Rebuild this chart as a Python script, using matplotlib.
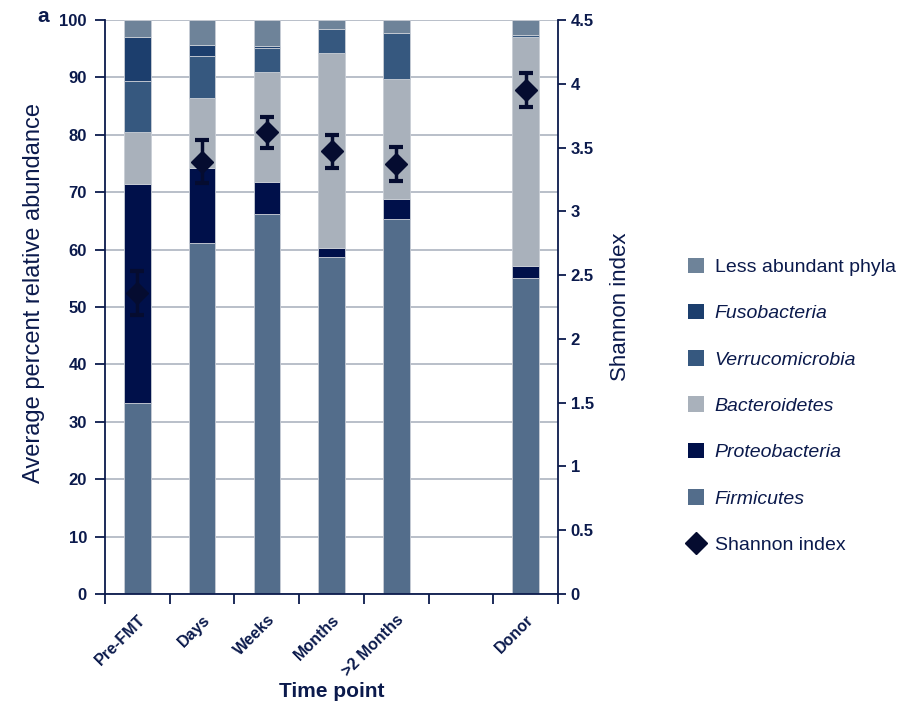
import matplotlib
matplotlib.use("Agg")
import matplotlib.pyplot as plt
import numpy as np
from matplotlib.lines import Line2D
from matplotlib.patches import Patch

plt.rcParams['font.family'] = ['Liberation Sans', 'DejaVu Sans']

# Time points (one empty slot separates follow-up from donor)
categories = ["Pre-FMT", "Days", "Weeks", "Months", ">2 Months", "", "Donor"]

# Average percent relative abundance per phylum (bottom to top)
firmicutes      = [33.3, 61.1, 66.2, 58.7, 65.3, 0, 55.1]
proteobacteria  = [38.1, 13.2,  5.5,  1.6,  3.5, 0,  2.1]
bacteroidetes   = [ 9.1, 12.1, 19.2, 33.9, 21.0, 0, 39.9]
verrucomicrobia = [ 8.9,  7.4,  4.3,  4.2,  7.9, 0,  0.2]
fusobacteria    = [ 7.7,  1.8,  0.3,  0.0,  0.0, 0,  0.1]
less_abundant   = [ 2.9,  4.4,  4.5,  1.6,  2.3, 0,  2.6]

# Shannon diversity (mean and error) per time point; None where no sample
shannon     = [2.36, 3.39, 3.62, 3.47, 3.37, None, 3.95]
shannon_err = [0.17, 0.17, 0.12, 0.13, 0.135, None, 0.135]

navy = "#0b1a4c"
layers = [
    ("Firmicutes", firmicutes, "#536d8b"),
    ("Proteobacteria", proteobacteria, "#00104a"),
    ("Bacteroidetes", bacteroidetes, "#a9b1bb"),
    ("Verrucomicrobia", verrucomicrobia, "#36587f"),
    ("Fusobacteria", fusobacteria, "#1c3e6d"),
    ("Less abundant phyla", less_abundant, "#6e8399"),
]

fig = plt.figure(figsize=(9.03, 7.04), dpi=100)
ax = fig.add_axes([0.1163, 0.1562, 0.5017, 0.8154])

x = np.arange(len(categories))
bottom = np.zeros(len(categories))
for name, vals, col in layers:
    vals = np.array(vals, dtype=float)
    ax.bar(x, vals, bottom=bottom, width=0.41, color=col,
           edgecolor="#c9ced6", linewidth=0.6, zorder=2)
    bottom += vals

ax.set_xlim(-0.5, len(categories) - 0.5)
ax.set_ylim(0, 100)
ax.set_yticks(np.arange(0, 101, 10))
ax.yaxis.grid(True, color="#b9bfc9", linewidth=1.4, zorder=0)
ax.set_axisbelow(True)

# Category ticks at slot boundaries, labels centred under bars
ax.set_xticks(np.arange(-0.5, len(categories) - 0.4, 1.0))
ax.set_xticklabels([])
ax.set_xticks(x, minor=True)
ax.set_xticklabels(categories, minor=True, rotation=45, ha="right",
                   rotation_mode="anchor", fontsize=11.5, fontweight="bold",
                   color=navy)
ax.tick_params(axis="x", which="minor", length=0, pad=13)
ax.tick_params(axis="x", which="major", length=7, width=1.3, color=navy,
               direction="out")
ax.tick_params(axis="y", length=7, width=1.3, color=navy, direction="out",
               labelsize=12, labelcolor=navy, pad=6)
for lbl in ax.get_yticklabels():
    lbl.set_fontweight("bold")

for side in ("top", "right"):
    ax.spines[side].set_visible(False)
for side in ("left", "bottom"):
    ax.spines[side].set_color(navy)
    ax.spines[side].set_linewidth(1.3)

ax.set_ylabel("Average percent relative abundance", fontsize=17, color=navy)
ax.yaxis.set_label_coords(-0.132, 0.524)
ax.set_xlabel("Time point", fontsize=15, color=navy, fontweight="bold")
ax.xaxis.set_label_coords(0.5, -0.153)

# Shannon index on secondary axis
ax2 = ax.twinx()
ax2.set_ylim(0, 4.5)
ax2.set_yticks(np.arange(0, 4.51, 0.5))
ax2.set_yticklabels(["0", "0.5", "1", "1.5", "2", "2.5", "3", "3.5", "4", "4.5"])
ax2.tick_params(axis="y", length=6, width=1.3, color=navy, direction="out",
                labelsize=12, labelcolor=navy, pad=3)
for lbl in ax2.get_yticklabels():
    lbl.set_fontweight("bold")
for side in ("top", "left", "bottom"):
    ax2.spines[side].set_visible(False)
ax2.spines["right"].set_color(navy)
ax2.spines["right"].set_linewidth(1.3)
ax2.set_ylabel("Shannon index", fontsize=16, color=navy, labelpad=12)

sx = [xi for xi, s in zip(x, shannon) if s is not None]
sy = [s for s in shannon if s is not None]
se = [e for e in shannon_err if e is not None]
ax2.errorbar(sx, sy, yerr=se, fmt="D", color="#050c30", markersize=11,
             ecolor="#050c30", elinewidth=2.5, capsize=5, capthick=3,
             zorder=5)

fig.text(0.048, 0.977, "a", fontsize=15, fontweight="bold", color=navy,
         va="center", ha="center")

# Legend (top of stack first)
handles = [Patch(facecolor=col, edgecolor="none") for _, _, col in layers[::-1]]
labels = [name for name, _, _ in layers[::-1]]
handles.append(Line2D([], [], marker="D", color="#050c30", linestyle="none",
                      markersize=11))
labels.append("Shannon index")
leg = fig.legend(handles, labels, loc="upper left",
                 bbox_to_anchor=(0.742, 0.659), frameon=False,
                 fontsize=14, handlelength=0.85, handleheight=0.85,
                 handletextpad=0.55, labelspacing=1.43)
for i, t in enumerate(leg.get_texts()):
    t.set_color(navy)
    if 0 < i < 6:
        t.set_style("italic")

fig.savefig("out.png", dpi=100)
